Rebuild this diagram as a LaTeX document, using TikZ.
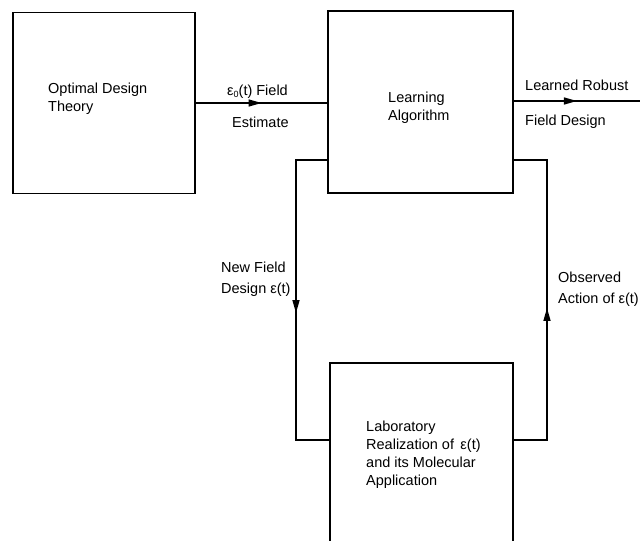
\documentclass[tikz,border=0pt]{standalone}
\usepackage{fontspec}
\setmainfont{Liberation Sans}
\usetikzlibrary{arrows.meta, decorations.markings}

\begin{document}
\begin{tikzpicture}[x=1pt, y=-1pt,
  box/.style={draw, line width=1.5pt, inner sep=0pt},
  flow/.style={line width=1.5pt},
  lbl/.style={anchor=north west, align=left, inner sep=0pt, font=\fontsize{14.5}{18}\selectfont},
  midarrow/.style={postaction={decorate}, decoration={markings,
    mark=at position #1 with {\arrow{Triangle[length=13pt, width=7pt]}}}}]
  \useasboundingbox (0,0) rectangle (644,540);
  % blocks
  \node[box, minimum width=182pt, minimum height=181pt] (theory) at (104,103) {};
  \node[box, minimum width=185pt, minimum height=182pt] (learn) at (420.5,102) {};
  \node[box, minimum width=183pt, minimum height=185pt] (lab) at (421.5,455.5) {};
  \node[lbl] (theorytxt) at (48,83) {Optimal Design\\Theory};
  \node[lbl] (learntxt) at (388,92) {Learning\\Algorithm};
  \node[lbl] (labtxt) at (366,421) {Laboratory\\Realization of \,ε(t)\\and its Molecular\\Application};
  % forward path
  \coordinate (out) at (640,101);
  \draw[flow, midarrow=0.5] (theory.east) -- (theory.east -| learn.west);
  \draw[flow, midarrow=0.5] (learn.east |- out) -- (out);
  \node[lbl] (esttop) at (227,85) {ε{\fontsize{9}{9}\selectfont\raisebox{-2pt}{0}}(t) Field};
  \node[lbl] (estbot) at (232,117) {Estimate};
  \node[lbl] (robtop) at (525,80) {Learned Robust};
  \node[lbl] (robbot) at (525,115) {Field Design};
  % feedback loop
  \coordinate (loopL) at (296,160);
  \coordinate (loopR) at (547,160);
  \coordinate (loopB) at (0,440);
  \draw[flow, midarrow=0.535] (loopL -| learn.west) -- (loopL) |- (lab.west |- loopB);
  \draw[flow, midarrow=0.477] (lab.east |- loopB) -| (loopR) -- (loopR -| learn.east);
  \node[lbl] (newtxt) at (221,262) {New Field\\[3pt]Design ε(t)};
  \node[lbl] (obstxt) at (558,272) {Observed\\[3pt]Action of ε(t)};
\end{tikzpicture}
\end{document}
